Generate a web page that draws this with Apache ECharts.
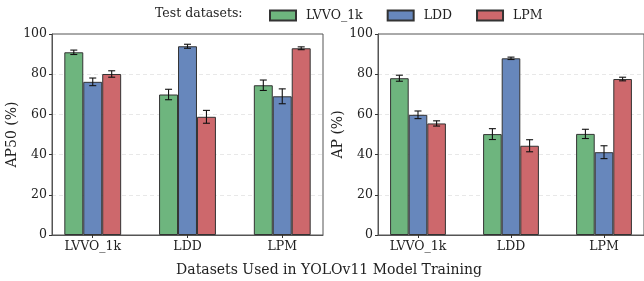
<!DOCTYPE html>
<html>
<head>
<meta charset="utf-8">
<script src="https://cdn.jsdelivr.net/npm/echarts@6/dist/echarts.min.js"></script>
<style>
html,body{margin:0;padding:0;background:#fff;}
#chart{width:644px;height:281px;}
</style>
</head>
<body>
<div id="chart"></div>
<script>
// training datasets (x groups) and test datasets (bars)
var trainSets = ['LVVO_1k', 'LDD', 'LPM'];
var testSets = ['LVVO_1k', 'LDD', 'LPM'];
var colors = ['#6eb57e', '#6787bc', '#cd686c'];

// AP50 (%) mean / std, one array per test dataset, indexed by training dataset
var ap50Lvvo = [90.9, 69.9, 74.5];
var ap50LvvoErr = [1.1, 2.6, 2.6];
var ap50Ldd = [76.2, 93.9, 69.0];
var ap50LddErr = [1.9, 1.0, 3.7];
var ap50Lpm = [80.1, 58.8, 92.9];
var ap50LpmErr = [1.6, 3.2, 0.7];

// AP (%)
var apLvvo = [78.0, 50.2, 50.3];
var apLvvoErr = [1.5, 2.7, 2.3];
var apLdd = [59.8, 87.9, 41.2];
var apLddErr = [1.9, 0.6, 3.2];
var apLpm = [55.5, 44.4, 77.6];
var apLpmErr = [1.3, 3.0, 0.9];

var font = 'DejaVu Serif';
var spine = '#555';
var barW = 0.2;
var offsets = [-barW, 0, barW];

var chart = echarts.init(document.getElementById('chart'));

function xAxis(idx) {
    return {
        type: 'value', gridIndex: idx, min: -0.43, max: 2.43,
        splitLine: {show: false},
        axisLine: {show: true, onZero: false, lineStyle: {color: spine}},
        axisTick: {show: true, length: 3, customValues: [0, 1, 2], lineStyle: {color: '#333'}},
        axisLabel: {
            customValues: [0, 1, 2], margin: 5,
            fontFamily: font, fontSize: 12.5, color: '#222',
            formatter: function (v) { return trainSets[Math.round(v)]; }
        }
    };
}

function yAxis(idx, name, gap) {
    return {
        type: 'value', gridIndex: idx, min: 0, max: 100, interval: 20,
        name: name, nameLocation: 'middle', nameGap: gap,
        nameTextStyle: {fontFamily: font, fontSize: 14, color: '#222'},
        axisLine: {show: true, onZero: false, lineStyle: {color: spine}},
        axisTick: {show: true, length: 3, lineStyle: {color: '#333'}},
        axisLabel: {margin: 5, fontFamily: font, fontSize: 12.5, color: '#222'},
        splitLine: {show: true, showMinLine: false, showMaxLine: false,
            lineStyle: {color: '#e2e2e2', type: [4, 3], width: 0.8}}
    };
}

function bars(idx, name, vals, color) {
    return {
        name: name, type: 'bar', xAxisIndex: idx, yAxisIndex: idx,
        barWidth: '20%', barGap: '0%',
        itemStyle: {color: color, borderColor: '#333', borderWidth: 1},
        data: vals.map(function (v, i) { return [i, v]; })
    };
}

function errs(idx, k, vals, e) {
    return {
        name: 'err' + idx + k, type: 'custom', xAxisIndex: idx, yAxisIndex: idx, z: 5,
        renderItem: function (params, api) {
            var x = api.value(0), y = api.value(1), d = api.value(2);
            var top = api.coord([x, y + d]);
            var bot = api.coord([x, y - d]);
            var st = {stroke: '#111', lineWidth: 1.1};
            return {
                type: 'group',
                children: [
                    {type: 'line', shape: {x1: top[0], y1: top[1], x2: bot[0], y2: bot[1]}, style: st},
                    {type: 'line', shape: {x1: top[0] - 3.5, y1: top[1], x2: top[0] + 3.5, y2: top[1]}, style: st},
                    {type: 'line', shape: {x1: bot[0] - 3.5, y1: bot[1], x2: bot[0] + 3.5, y2: bot[1]}, style: st}
                ]
            };
        },
        data: vals.map(function (v, i) { return [i + offsets[k], v, e[i]]; })
    };
}

var left = [[ap50Lvvo, ap50LvvoErr], [ap50Ldd, ap50LddErr], [ap50Lpm, ap50LpmErr]];
var right = [[apLvvo, apLvvoErr], [apLdd, apLddErr], [apLpm, apLpmErr]];

var series = [];
[left, right].forEach(function (panel, idx) {
    panel.forEach(function (s, k) { series.push(bars(idx, testSets[k], s[0], colors[k])); });
});
[left, right].forEach(function (panel, idx) {
    panel.forEach(function (s, k) { series.push(errs(idx, k, s[0], s[1])); });
});

var option = {
    animation: false,
    backgroundColor: '#fff',
    textStyle: {fontFamily: font},
    legend: {
        data: testSets, left: 269, top: 9, padding: 0,
        itemWidth: 26, itemHeight: 10, itemGap: 24,
        icon: 'rect',
        textStyle: {fontFamily: font, fontSize: 12.5, color: '#222', padding: [0, 0, 0, 5]}
    },
    grid: [
        {left: 52, top: 34, width: 271, height: 201, show: true, borderColor: spine, borderWidth: 1},
        {left: 378, top: 34, width: 271, height: 201, show: true, borderColor: spine, borderWidth: 1}
    ],
    xAxis: [xAxis(0), xAxis(1)],
    yAxis: [yAxis(0, 'AP50 (%)', 28), yAxis(1, 'AP (%)', 30)],
    graphic: [
        {type: 'text', x: 155, y: 14, style: {text: 'Test datasets:', font: '12.5px "DejaVu Serif"', fill: '#222', verticalAlign: 'middle'}},
        {type: 'text', x: 329, y: 270, style: {text: 'Datasets Used in YOLOv11 Model Training', font: '14px "DejaVu Serif"', fill: '#222', align: 'center', verticalAlign: 'middle'}}
    ],
    series: series
};

chart.setOption(option);
</script>
</body>
</html>
